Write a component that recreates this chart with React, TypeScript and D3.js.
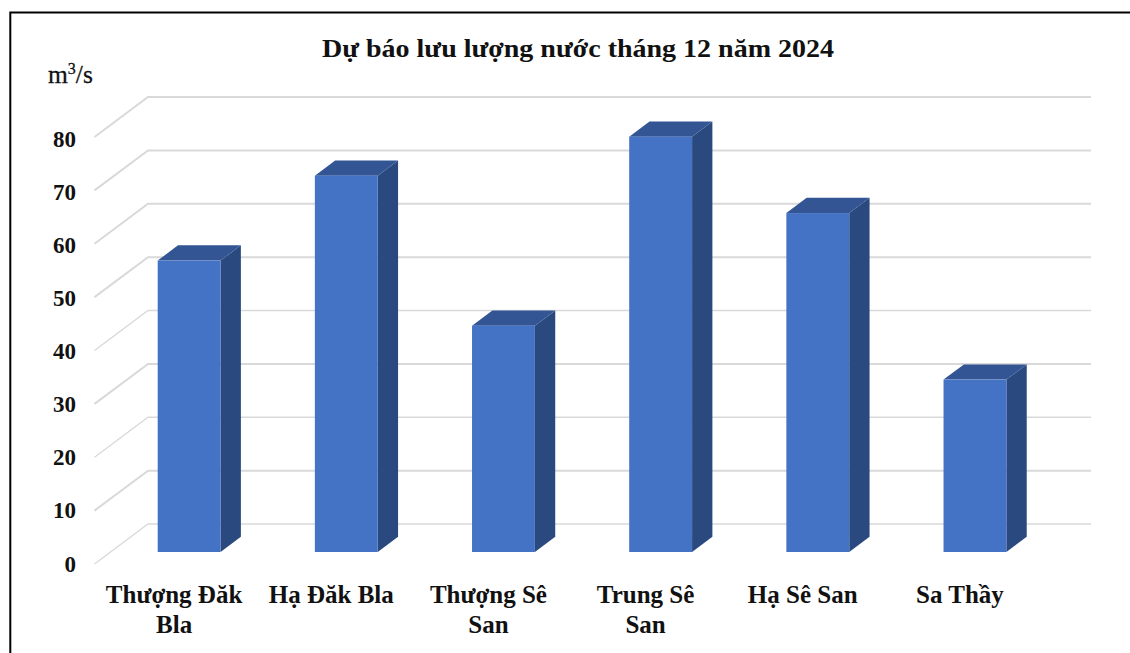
import React from "react";
import * as d3 from "d3";

const titleText = "Dự báo lưu lượng nước tháng 12 năm 2024";
const unitBase = "m";
const unitSup = "3";
const unitTail = "/s";
const categories = ["Thượng Đăk Bla", "Hạ Đăk Bla", "Thượng Sê San", "Trung Sê San", "Hạ Sê San", "Sa Thầy"];
const categoryLines = [["Thượng Đăk", "Bla"], ["Hạ Đăk Bla"], ["Thượng Sê", "San"], ["Trung Sê", "San"], ["Hạ Sê San"], ["Sa Thầy"]];
const values = [54.6, 70.5, 42.4, 77.8, 63.5, 32.3];
const ticks = [0, 10, 20, 30, 40, 50, 60, 70, 80];
const thickGrid = [80, 70, 60, 50, 30, 10];

const W = 1130, H = 653;
const FONT = "'Liberation Serif', serif";
const depthX = 53.5, depthY = 40;
const barNear = 0.3, barFar = 0.68;

const x = d3.scaleBand<string>().domain(categories).range([94.5, 1037.5]).paddingInner(0.6).paddingOuter(0.3);
const y = d3.scaleLinear().domain([0, 80]).range([564, 137]);
const yLabel = d3.scaleLinear().domain([0, 80]).range([571.5, 146.5]);
const px = (cx: number, t: number) => cx + depthX * t;
const py = (v: number, t: number) => y(v) - depthY * t;
const poly = (pts: [number, number][]) => (d3.line()(pts) ?? "") + "Z";

export default function App() {
  const bw = x.bandwidth();
  return (
    <svg width={W} height={H} viewBox={`0 0 ${W} ${H}`}
      style={{ position: "fixed", left: 0, top: 0, background: "#fff", fontFamily: FONT }}>
      <path d={`M10.3 ${H}V12.6H${W}`} fill="none" stroke="#000" strokeWidth={2} />
      <text x={578} y={57} textAnchor="middle" fontSize={26} fontWeight={700} fill="#111"
        textLength={512} lengthAdjust="spacingAndGlyphs">{titleText}</text>
      <text x={48} y={83} fontSize={25.5} fill="#111" stroke="#111" strokeWidth={0.3}>
        {unitBase}<tspan dy={-9} fontSize={16}>{unitSup}</tspan><tspan dy={9}>{unitTail}</tspan>
      </text>
      {ticks.map(t => {
        const sw = thickGrid.includes(t) ? 2 : 1.3;
        return (
          <g key={t}>
            <path d={d3.line()([[px(94.5, 0), py(t, 0)], [px(94.5, 1), py(t, 1)], [px(1037.5, 1), py(t, 1)]]) ?? ""}
              fill="none" stroke="#d9d9d9" strokeWidth={sw} />
            <text x={76} y={yLabel(t)} textAnchor="end" fontSize={23} fontWeight={700} fill="#111">{t}</text>
          </g>
        );
      })}
      {categories.map((c, i) => {
        const x0 = x(c)!, x1 = x0 + bw, v = values[i];
        return (
          <g key={c}>
            <path d={poly([[px(x1, barNear), py(0, barNear)], [px(x1, barFar), py(0, barFar)], [px(x1, barFar), py(v, barFar)], [px(x1, barNear), py(v, barNear)]])} fill="#2a4a7f" />
            <path d={poly([[px(x0, barNear), py(v, barNear)], [px(x1, barNear), py(v, barNear)], [px(x1, barFar), py(v, barFar)], [px(x0, barFar), py(v, barFar)]])} fill="#335593" />
            <rect x={px(x0, barNear)} y={py(v, barNear)} width={bw} height={py(0, barNear) - py(v, barNear)} fill="#4472c4" />
            {categoryLines[i].map((line, j) => (
              <text key={line} x={x0 + bw / 2 + 1} y={602.5 + j * 30} textAnchor="middle" fontSize={25} fontWeight={700} fill="#111">{line}</text>
            ))}
          </g>
        );
      })}
    </svg>
  );
}
